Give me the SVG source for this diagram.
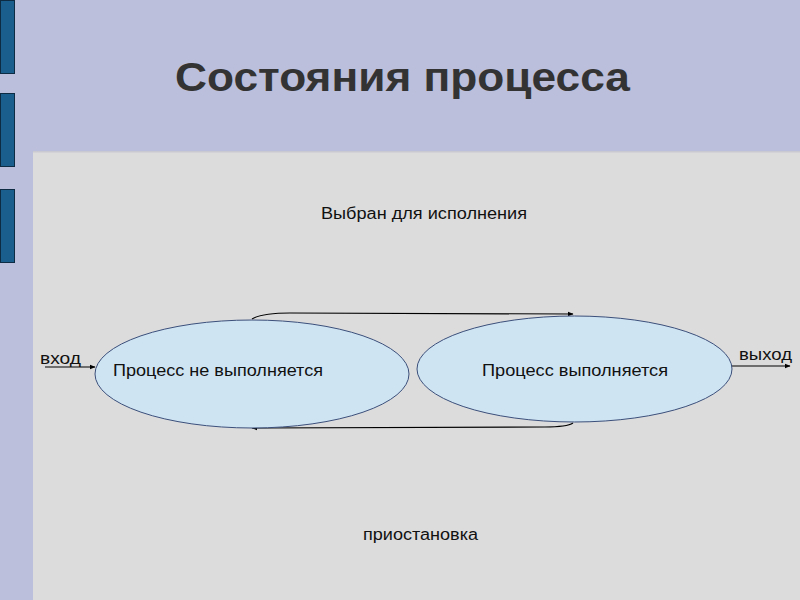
<svg xmlns="http://www.w3.org/2000/svg" width="800" height="600" viewBox="0 0 800 600">
<style>
.bar{fill:#1a5e8e;stroke:#0d2c44;stroke-width:1}
.state{fill:#cfe4f3;stroke:#3b4f7a;stroke-width:1}
.t{font-family:"Liberation Sans",Arial,sans-serif;fill:#111}
.c{fill:none;stroke:#000;stroke-width:1.2}
</style>
<defs>
<marker id="ah" viewBox="0 0 10 10" refX="9" refY="5" markerWidth="6" markerHeight="6" orient="auto" markerUnits="userSpaceOnUse">
<path d="M0,1 L10,5 L0,9 z" fill="#000"/>
</marker>
</defs>
<rect width="800" height="600" fill="#bbbfdb"/>
<rect x="33" y="151" width="767" height="449" fill="#dcdcdc"/>
<rect x="33" y="151" width="767" height="1.5" fill="#c9c9d2"/>
<g id="bars">
<rect class="bar" x="0.5" y="0.5" width="14" height="73"/>
<rect class="bar" x="0.5" y="93.5" width="14" height="73"/>
<rect class="bar" x="0.5" y="189.5" width="14" height="73"/>
</g>
<text class="t" x="175" y="91" font-size="40" font-weight="bold" textLength="455" lengthAdjust="spacingAndGlyphs" style="fill:#333">Состояния процесса</text>
<g id="connectors">
<path class="c" d="M252,319 Q262,313 290,313 L573,314" marker-end="url(#ah)"/>
<path class="c" d="M573,423 Q567,427 545,427 L252,428" marker-end="url(#ah)"/>
<line class="c" x1="45" y1="367" x2="95" y2="367" marker-end="url(#ah)"/>
<line class="c" x1="732" y1="366" x2="790" y2="366" marker-end="url(#ah)"/>
</g>
<g id="not-running">
<ellipse class="state" cx="252" cy="374" rx="157" ry="54"/>
<text class="t" x="113" y="376" font-size="17" textLength="210" lengthAdjust="spacingAndGlyphs">Процесс не выполняется</text>
</g>
<g id="running">
<ellipse class="state" cx="574.5" cy="369" rx="157.5" ry="53"/>
<text class="t" x="482" y="376" font-size="17" textLength="186" lengthAdjust="spacingAndGlyphs">Процесс выполняется</text>
</g>
<g id="labels">
<text class="t" x="321" y="219" font-size="16" textLength="206" lengthAdjust="spacingAndGlyphs">Выбран для исполнения</text>
<text class="t" x="363" y="540" font-size="16" textLength="115" lengthAdjust="spacingAndGlyphs">приостановка</text>
<text class="t" x="40" y="364" font-size="17" textLength="41" lengthAdjust="spacingAndGlyphs">вход</text>
<text class="t" x="739" y="360" font-size="17" textLength="53" lengthAdjust="spacingAndGlyphs">выход</text>
</g>
</svg>
